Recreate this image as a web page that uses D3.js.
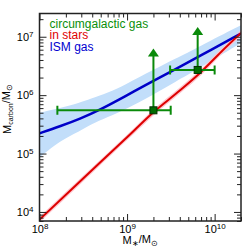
<!DOCTYPE html>
<head>
    <meta charset="utf-8">
    <title>carbon budget</title>
    <style>
        body { margin: 0; background: #fff; }
        svg { display: block; font-family: "Liberation Sans", Arial, sans-serif; }
        .tick line { stroke: #222; stroke-width: 1; }
        .tick text { fill: #000; font-size: 11px; }
    </style>
</head>

<body>

    <svg width="251" height="251"></svg>

    <script src="https://d3js.org/d3.v7.min.js"></script>

    <script>

        // stars: carbon locked in stars vs stellar mass
        var starMass = [1e8, 3e8, 1e9, 2e9, 4e9, 7e9, 1.2e10, 2e10];
        var starCarbon = [7.4e3, 3.5e4, 1.9e5, 5.1e5, 1.2e6, 2.5e6, 5.6e6, 1.16e7];
        var starCarbonLo = [6.6e3, 3.1e4, 1.7e5, 4.5e5, 1.07e6, 2.2e6, 5.0e6, 1.03e7];
        var starCarbonHi = [8.3e3, 3.9e4, 2.1e5, 5.7e5, 1.35e6, 2.8e6, 6.3e6, 1.3e7];

        // ISM gas
        var ismMass = [1e8, 1.71e8, 2.9e8, 4.9e8, 9.46e8, 1.98e9, 3.52e9, 6.45e9, 2e10];
        var ismCarbon = [2.22e5, 2.92e5, 3.93e5, 5.6e5, 9.5e5, 1.75e6, 2.75e6, 4.5e6, 1.135e7];
        var ismBandMass = [1e8, 1.7e8, 2.9e8, 3.77e8, 6.05e8, 9.46e8, 1.98e9, 3.52e9, 6.5e9, 2e10];
        var ismCarbonHi = [5.0e5, 6.0e5, 7.4e5, 8.6e5, 1.09e6, 1.5e6, 2.7e6, 4.16e6, 6.65e6, 1.58e7];
        var ismCarbonLo = [8.5e4, 1.65e5, 2.4e5, 3.1e5, 4.25e5, 5.6e5, 1.01e6, 1.68e6, 2.8e6, 7.8e6];

        // circumgalactic gas: lower limits with mass ranges
        var cgmMass = [2e9, 6.4e9];
        var cgmMassLo = [1.6e8, 3.1e9];
        var cgmMassHi = [3.15e9, 1e10];
        var cgmCarbon = [5.5e5, 2.7e6];
        var cgmCarbonUp = [6.3e6, 1.47e7];

        var xMajor = [1e8, 1e9, 1e10];
        var yMajor = [1e4, 1e5, 1e6, 1e7];

        var legendNames = ["circumgalactic gas", "in stars", "ISM gas"];
        var legendColors = ["#0a8f0a", "#e00000", "#0000d0"];

        var svg = d3.select("svg"),
            margin = { top: 13.5, right: 10, bottom: 30, left: 39.5 },
            width = 241 - margin.left,
            height = 221 - margin.top,
            g = svg.append("g").attr("transform", "translate(" + margin.left + "," + margin.top + ")");

        var x = d3.scaleLog().domain([1e8, 2e10]).range([0, width]);
        var y = d3.scaleLog().domain([7e3, 2.5e7]).range([height, 0]);

        function minors(sc, majors) {
            var dom = sc.domain(), out = [];
            majors.concat([majors[0] / 10, majors[majors.length - 1] * 10]).forEach(function (m) {
                for (var k = 2; k <= 9; k++) {
                    var v = m * k;
                    if (v >= dom[0] && v <= dom[1]) out.push(v);
                }
            });
            return out;
        }

        g.append("clipPath").attr("id", "clip")
            .append("rect").attr("width", width).attr("height", height);

        var plot = g.append("g").attr("clip-path", "url(#clip)");

        // bands
        var ismArea = d3.area()
            .x(function (d, i) { return x(ismBandMass[i]); })
            .y0(function (d, i) { return y(ismCarbonLo[i]); })
            .y1(function (d, i) { return y(ismCarbonHi[i]); })
            .curve(d3.curveBasis);
        plot.append("path").datum(ismBandMass)
            .attr("d", ismArea).attr("fill", "#c2defa");

        var starArea = d3.area()
            .x(function (d, i) { return x(starMass[i]); })
            .y0(function (d, i) { return y(starCarbonLo[i]); })
            .y1(function (d, i) { return y(starCarbonHi[i]); })
            .curve(d3.curveMonotoneX);
        plot.append("path").datum(starMass)
            .attr("d", starArea).attr("fill", "#ffc4cc");

        // lines
        var ismLine = d3.line()
            .x(function (d, i) { return x(ismMass[i]); })
            .y(function (d) { return y(d); })
            .curve(d3.curveBasis);
        plot.append("path").datum(ismCarbon)
            .attr("d", ismLine).attr("fill", "none")
            .attr("stroke", "#0000c8").attr("stroke-width", 2.5);

        var starLine = d3.line()
            .x(function (d, i) { return x(starMass[i]); })
            .y(function (d) { return y(d); })
            .curve(d3.curveMonotoneX);
        plot.append("path").datum(starCarbon)
            .attr("d", starLine).attr("fill", "none")
            .attr("stroke", "#dd0000").attr("stroke-width", 2);

        // circumgalactic points
        var green = "#0a8a0a";
        var cgm = plot.selectAll(".cgm")
            .data(cgmMass)
            .enter().append("g")
            .attr("class", "cgm");

        cgm.append("line")
            .attr("x1", function (d, i) { return x(cgmMassLo[i]); })
            .attr("x2", function (d, i) { return x(cgmMassHi[i]); })
            .attr("y1", function (d, i) { return y(cgmCarbon[i]); })
            .attr("y2", function (d, i) { return y(cgmCarbon[i]); })
            .attr("stroke", green).attr("stroke-width", 2);

        [cgmMassLo, cgmMassHi].forEach(function (arr) {
            cgm.append("line")
                .attr("x1", function (d, i) { return x(arr[i]); })
                .attr("x2", function (d, i) { return x(arr[i]); })
                .attr("y1", function (d, i) { return y(cgmCarbon[i]) - 4.5; })
                .attr("y2", function (d, i) { return y(cgmCarbon[i]) + 4.5; })
                .attr("stroke", green).attr("stroke-width", 2);
        });

        cgm.append("line")
            .attr("x1", function (d) { return x(d); })
            .attr("x2", function (d) { return x(d); })
            .attr("y1", function (d, i) { return y(cgmCarbon[i]); })
            .attr("y2", function (d, i) { return y(cgmCarbonUp[i]) + 5; })
            .attr("stroke", green).attr("stroke-width", 2);

        cgm.append("path")
            .attr("d", function (d, i) {
                var cx = x(d), ty = y(cgmCarbonUp[i]);
                return "M" + cx + "," + ty + "L" + (cx - 5.5) + "," + (ty + 8) + "L" + (cx + 5.5) + "," + (ty + 8) + "Z";
            })
            .attr("fill", green);

        cgm.append("rect")
            .attr("x", function (d) { return x(d) - 3.5; })
            .attr("y", function (d, i) { return y(cgmCarbon[i]) - 3.5; })
            .attr("width", 7).attr("height", 7)
            .attr("fill", "#006a00").attr("stroke", "#003000").attr("stroke-width", 1);

        // axes
        function sup(sel) {
            sel.selectAll(".tick text").each(function (d) {
                var t = d3.select(this), e = Math.round(Math.log10(d));
                t.text(null);
                t.append("tspan").text("10");
                t.append("tspan").attr("font-size", "8px").attr("dy", "-0.5em").text(e);
            });
        }

        var xMin = minors(x, xMajor), yMin = minors(y, yMajor);

        g.append("g").attr("transform", "translate(0," + height + ")")
            .call(d3.axisBottom(x).tickValues(xMajor).tickSize(-7).tickPadding(4))
            .call(sup);
        g.append("g").attr("transform", "translate(0," + height + ")")
            .call(d3.axisBottom(x).tickValues(xMin).tickSize(-4).tickFormat(""));
        g.append("g")
            .call(d3.axisTop(x).tickValues(xMajor).tickSize(-7).tickFormat(""));
        g.append("g")
            .call(d3.axisTop(x).tickValues(xMin).tickSize(-4).tickFormat(""));

        g.append("g")
            .call(d3.axisLeft(y).tickValues(yMajor).tickSize(-7).tickPadding(6))
            .call(sup);
        g.append("g")
            .call(d3.axisLeft(y).tickValues(yMin).tickSize(-4).tickFormat(""));
        g.append("g").attr("transform", "translate(" + width + ",0)")
            .call(d3.axisRight(y).tickValues(yMajor).tickSize(-7).tickFormat(""));
        g.append("g").attr("transform", "translate(" + width + ",0)")
            .call(d3.axisRight(y).tickValues(yMin).tickSize(-4).tickFormat(""));

        g.selectAll(".domain").remove();

        g.append("rect")
            .attr("width", width).attr("height", height)
            .attr("fill", "none").attr("stroke", "#222").attr("stroke-width", 1.5);

        // legend
        g.selectAll(".legend")
            .data(legendNames)
            .enter().append("text")
            .attr("class", "legend")
            .attr("x", 10)
            .attr("y", function (d, i) { return 14.5 + i * 11.3; })
            .attr("fill", function (d, i) { return legendColors[i]; })
            .style("font-size", "12px")
            .text(function (d) { return d; });

        // axis titles
        var xt = svg.append("text")
            .attr("x", margin.left + width / 2)
            .attr("y", 244)
            .attr("text-anchor", "middle")
            .style("font-size", "11px");
        xt.append("tspan").text("M");
        xt.append("tspan").attr("font-size", "8px").attr("dy", "0.3em").text("∗");
        xt.append("tspan").attr("dy", "-0.3em").text("/M");
        xt.append("tspan").attr("font-size", "8px").attr("dy", "0.3em").text("⊙");

        var yt = svg.append("text")
            .attr("transform", "translate(11,109) rotate(-90)")
            .attr("text-anchor", "middle")
            .style("font-size", "11px");
        yt.append("tspan").text("M");
        yt.append("tspan").attr("font-size", "7px").attr("dy", "0.3em").text("carbon");
        yt.append("tspan").attr("dy", "-0.3em").text("/M");
        yt.append("tspan").attr("font-size", "8px").attr("dy", "0.3em").text("⊙");

    </script>
</body>
